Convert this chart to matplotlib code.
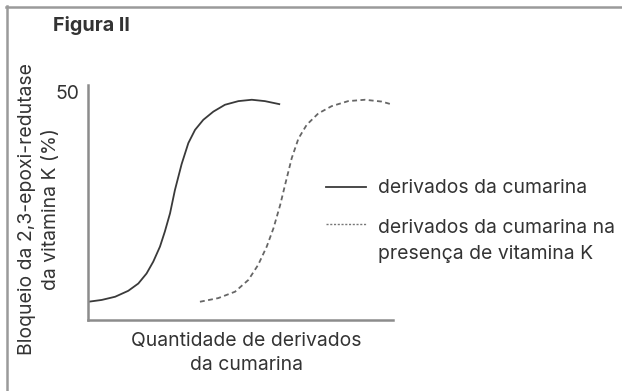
import matplotlib
matplotlib.use("Agg")
import matplotlib.pyplot as plt
from matplotlib.lines import Line2D

plt.rcParams['font.family'] = ['Inter', 'DejaVu Sans']

# Data
solid_x = [0.01, 0.45, 0.89, 1.32, 1.65, 1.92, 2.14, 2.36, 2.52, 2.69, 2.85, 3.07, 3.29, 3.51,
           3.78, 4.11, 4.49, 4.93, 5.37, 5.80, 6.30]
solid_y = [4.0, 4.4, 5.1, 6.4, 8.0, 10.2, 12.8, 16.1, 19.4, 23.4, 28.5, 34.2, 38.8, 41.7,
           43.9, 45.7, 47.2, 48.0, 48.3, 48.0, 47.3]
dash_x = [3.67, 4.27, 4.82, 5.26, 5.58, 5.86, 6.08, 6.30, 6.46, 6.68, 6.90, 7.17, 7.55, 7.99,
          8.53, 9.08, 9.63, 10.0]
dash_y = [4.0, 4.8, 6.2, 8.8, 12.1, 16.1, 20.1, 25.2, 29.6, 35.5, 39.8, 42.8, 45.3, 46.9,
          48.0, 48.3, 47.9, 47.2]
ytick_vals = [50]
ytick_labels = ["50"]
title = "Figura II"
ylabel_lines = ["Bloqueio da 2,3-epoxi-redutase", "da vitamina K (%)"]
xlabel_lines = ["Quantidade de derivados", "da cumarina"]
legend_labels = ["derivados da cumarina", ["derivados da cumarina na", "presença de vitamina K"]]

W, H = 622, 391
fig = plt.figure(figsize=(W / 100, H / 100), dpi=100)
renderer = fig.canvas.get_renderer()

def fx(px):
    return px / W

def fy(py):
    return 1 - py / H

def fit_size(text, target_px, weight='normal'):
    t = fig.text(0, 0, text, fontsize=10, fontweight=weight)
    w = t.get_window_extent(renderer).width
    t.remove()
    return 10 * target_px / w

TXT = "#333333"
AX = "#8c8c8c"
FS = (fit_size(xlabel_lines[0], 236) + fit_size(legend_labels[0], 211)
      + fit_size(ylabel_lines[0], 285)) / 3
FS_T = fit_size(title, 77, 'bold')

ax_l, ax_r, ax_t, ax_b = 88, 393, 85, 320
ax = fig.add_axes([fx(ax_l), fy(ax_b), (ax_r - ax_l) / W, (ax_b - ax_t) / H])
ax.set_xlim(0, 10)
ax.set_ylim(0, (ax_b - ax_t) / 4.56)

ax.plot(solid_x, solid_y, color="#3a3a3a", lw=1.3, solid_capstyle='butt', clip_on=False)
ax.plot(dash_x, dash_y, color="#666666", lw=1.3, linestyle=(0, (2.7, 1.9)), clip_on=False)

for s in ['top', 'right']:
    ax.spines[s].set_visible(False)
for s in ['left', 'bottom']:
    ax.spines[s].set_color(AX)
    ax.spines[s].set_linewidth(1.8)
ax.set_xticks([])
ax.set_yticks(ytick_vals)
ax.set_yticklabels(ytick_labels, fontsize=FS, color=TXT)
ax.tick_params(axis='y', length=0, pad=6)
ax.patch.set_alpha(0)

# figure border (top and left)
fig.add_artist(Line2D([fx(6), fx(W)], [fy(6.5), fy(6.5)], color="#9a9a9a", lw=1.8))
fig.add_artist(Line2D([fx(6.5), fx(6.5)], [fy(6), fy(H)], color="#9a9a9a", lw=1.8))

fig.text(fx(53), fy(31), title, fontsize=FS_T, fontweight='bold', color=TXT, ha='left', va='baseline')

for xb, line in zip([32, 56], ylabel_lines):
    fig.text(fx(xb), fy(209), line, fontsize=FS, color=TXT, rotation=90, rotation_mode='anchor',
             ha='center', va='baseline')
for yb, line in zip([346, 370], xlabel_lines):
    fig.text(fx(246), fy(yb), line, fontsize=FS, color=TXT, ha='center', va='baseline')

# legend
fig.add_artist(Line2D([fx(326), fx(366)], [fy(187), fy(187)], color="#3a3a3a", lw=1.3))
fig.text(fx(378), fy(193), legend_labels[0], fontsize=FS, color=TXT, ha='left', va='baseline')
fig.add_artist(Line2D([fx(326), fx(366)], [fy(224), fy(224)], color="#777777", lw=1.0,
                      linestyle=(0, (1.5, 1.2))))
for yb, line in zip([233, 259], legend_labels[1]):
    fig.text(fx(378), fy(yb), line, fontsize=FS, color=TXT, ha='left', va='baseline')

fig.savefig("out.png", dpi=100)
